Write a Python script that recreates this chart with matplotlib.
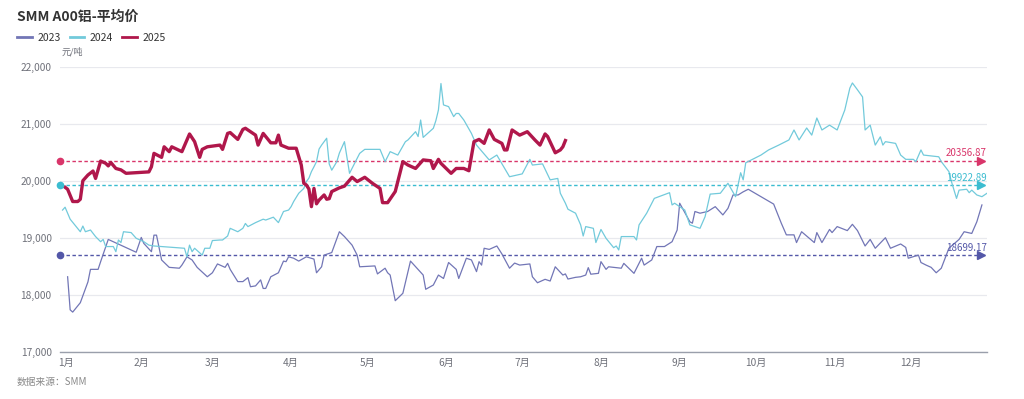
import matplotlib
matplotlib.use("Agg")
import matplotlib.pyplot as plt
from matplotlib.lines import Line2D

plt.rcParams['font.family'] = ['Noto Sans CJK SC', 'DejaVu Sans']

# day of year / price (元/吨)
days_2023 = [3, 4, 5, 8, 11, 12, 15, 16, 19, 30, 32, 33, 36, 37, 38, 40, 43, 47, 48, 50,
             52, 54, 58, 60, 62, 65, 66, 67, 70, 72, 74, 75, 77, 79, 80, 81, 83, 86, 88, 89,
             90, 92, 94, 97, 100, 101, 103, 104, 107, 110, 112, 115, 117, 118, 124, 125, 128,
             129, 130, 132, 135, 138, 143, 144, 147, 149, 151, 153, 156, 157, 160, 162, 164,
             165, 166, 167, 169, 172, 174, 177, 179, 181, 185, 186, 188, 191, 193, 195, 198,
             199, 200, 203, 205, 207, 208, 209, 212, 213, 215, 216, 221, 222, 226, 229, 230,
             233, 235, 238, 241, 243, 244, 248, 249, 250, 252, 255, 258, 261, 263, 265, 267,
             269, 271, 281, 284, 286, 289, 290, 292, 297, 298, 300, 303, 304, 306, 310, 312,
             314, 317, 319, 321, 325, 327, 331, 333, 334, 338, 339, 341, 343, 345, 347, 350,
             354, 356, 359, 361, 363]
price_2023 = [18320, 17740, 17700, 17865, 18230, 18450, 18450, 18585, 18975, 18750, 19010,
              18905, 18760, 19050, 19050, 18615, 18485, 18470, 18525, 18670, 18615, 18485,
              18320, 18390, 18545, 18485, 18555, 18450, 18235, 18235, 18305, 18145, 18160,
              18265, 18115, 18115, 18320, 18390, 18595, 18585, 18670, 18645, 18595, 18670,
              18630, 18390, 18495, 18700, 18745, 19110, 19025, 18875, 18700, 18495, 18510,
              18370, 18470, 18390, 18350, 17900, 18030, 18595, 18350, 18100, 18175, 18350,
              18290, 18570, 18450, 18290, 18645, 18615, 18410, 18585, 18525, 18820, 18800,
              18860, 18720, 18470, 18560, 18525, 18545, 18320, 18215, 18275, 18245, 18495,
              18350, 18370, 18280, 18310, 18320, 18350, 18480, 18365, 18380, 18585, 18450,
              18495, 18470, 18555, 18380, 18645, 18525, 18615, 18850, 18850, 18935, 19140,
              19610, 19285, 19260, 19465, 19435, 19465, 19550, 19405, 19520, 19755, 19755,
              19810, 19855, 19595, 19260, 19055, 19055, 18920, 19110, 18920, 19095, 18920,
              19150, 19095, 19200, 19130, 19240, 19130, 18860, 18975, 18820, 19005, 18820,
              18895, 18835, 18645, 18700, 18570, 18525, 18485, 18390, 18470, 18820, 18975,
              19110, 19080, 19285, 19580]

days_2024 = [1, 2, 4, 8, 9, 10, 12, 14, 16, 17, 18, 21, 22, 23, 24, 25, 28, 30, 33, 35, 37,
             49, 50, 51, 52, 53, 56, 57, 59, 60, 63, 64, 66, 67, 70, 72, 73, 74, 77, 80, 81,
             84, 86, 88, 90, 91, 92, 94, 96, 97, 98, 99, 100, 101, 102, 103, 105, 106, 107,
             109, 110, 112, 114, 118, 120, 126, 128, 130, 133, 136, 137, 140, 141, 142, 143,
             147, 148, 149, 150, 151, 153, 155, 156, 157, 159, 162, 164, 169, 172, 177, 182,
             185, 186, 190, 193, 196, 197, 199, 200, 203, 205, 206, 207, 210, 211, 213, 215,
             218, 219, 220, 221, 226, 227, 228, 231, 234, 240, 241, 242, 246, 248, 252, 254,
             256, 260, 263, 266, 268, 269, 270, 276, 279, 283, 287, 289, 291, 294, 296, 298,
             300, 303, 306, 309, 311, 312, 314, 316, 317, 319, 321, 323, 324, 325, 329, 331,
             333, 336, 337, 339, 340, 346, 347, 350, 351, 352, 353, 354, 357, 358, 359, 361,
             363, 365]
price_2024 = [19490, 19540, 19330, 19110, 19210, 19110, 19140, 19025, 18935, 18975, 18850,
              18850, 18760, 18965, 18920, 19110, 19095, 18995, 18935, 18875, 18860, 18820,
              18670, 18875, 18760, 18820, 18700, 18820, 18820, 18955, 18965, 18965, 19035,
              19170, 19110, 19170, 19255, 19200, 19270, 19330, 19315, 19365, 19270, 19465,
              19490, 19550, 19640, 19785, 19870, 19990, 20050, 20165, 20250, 20340, 20560,
              20630, 20750, 20300, 20190, 20340, 20490, 20690, 20135, 20485, 20555, 20555,
              20340, 20515, 20455, 20690, 20720, 20865, 20780, 21070, 20765, 20925, 21060,
              21245, 21710, 21335, 21305, 21130, 21185, 21185, 21070, 20835, 20630, 20370,
              20455, 20075, 20125, 20380, 20280, 20300, 20020, 20045, 19785, 19610, 19505,
              19435, 19230, 19035, 19200, 19170, 18920, 19150, 18995, 18830, 18860, 18790,
              19025, 19025, 18965, 19230, 19435, 19695, 19795, 19580, 19610, 19490, 19230,
              19170, 19375, 19770, 19785, 19960, 19725, 20145, 20020, 20320, 20455, 20545,
              20630, 20720, 20895, 20720, 20930, 20805, 21105, 20895, 20980, 20895, 21245,
              21630, 21720, 21600, 21475, 20895, 20980, 20630, 20775, 20630, 20690, 20660,
              20455, 20380, 20380, 20340, 20545, 20455, 20425, 20340, 20165, 19990, 19840,
              19695, 19840, 19855, 19795, 19840, 19755, 19725, 19785]

days_2025 = [2, 3, 5, 7, 8, 9, 11, 13, 14, 16, 18, 19, 20, 22, 24, 26, 35, 36, 37, 40, 41,
             43, 44, 48, 51, 53, 55, 56, 58, 63, 64, 66, 67, 70, 72, 73, 76, 77, 78, 80, 83,
             85, 86, 87, 90, 93, 95, 96, 97, 98, 99, 100, 101, 102, 104, 105, 106, 107, 110,
             112, 115, 117, 120, 123, 126, 127, 129, 132, 135, 137, 140, 143, 146, 147, 149,
             150, 154, 156, 159, 161, 163, 165, 167, 169, 171, 174, 175, 176, 178, 181, 184,
             187, 189, 191, 192, 195, 197, 198, 199]
price_2025 = [19890, 19855, 19640, 19640, 19680, 20005, 20105, 20175, 20045, 20350, 20310,
              20265, 20325, 20220, 20195, 20135, 20160, 20250, 20485, 20415, 20600, 20515,
              20600, 20515, 20825, 20690, 20415, 20555, 20600, 20630, 20555, 20835, 20850,
              20730, 20905, 20925, 20835, 20805, 20630, 20835, 20670, 20670, 20805, 20630,
              20575, 20575, 20280, 19960, 19930, 19860, 19550, 19870, 19600, 19665, 19755,
              19680, 19690, 19815, 19880, 19910, 20065, 19990, 20065, 19960, 19870, 19620,
              19620, 19815, 20340, 20280, 20220, 20370, 20355, 20220, 20380, 20310, 20135,
              20220, 20220, 20180, 20690, 20730, 20660, 20895, 20730, 20660, 20545, 20545,
              20895, 20805, 20865, 20720, 20630, 20825, 20780, 20495, 20545, 20600, 20710]

years = ['2023', '2024', '2025']
means = [18699.17, 19922.89, 20356.87]
month_labels = ['1月', '2月', '3月', '4月', '5月', '6月', '7月', '8月', '9月', '10月', '11月', '12月']
month_days = [2.5, 32, 60, 91, 121, 152, 182, 213, 244, 274, 305, 335]

line_colors = ['#7276b6', '#72cadb', '#b0174b']
mean_colors = ['#5357a8', '#3bbcd0', '#d9356a']
widths = [0.9, 0.9, 2.4]

fig = plt.figure(figsize=(10.24, 3.99), dpi=100)
ax = fig.add_axes([60 / 1024, 47 / 399, 927 / 1024, 285 / 399])

series = [(days_2023, price_2023), (days_2024, price_2024), (days_2025, price_2025)]
for (d, p), c, w in zip(series, line_colors, widths):
    ax.plot(d, p, color=c, lw=w, solid_joinstyle='round', zorder=3)

# average lines with a dot at the start and an arrow at the end
for m, c in zip(means, mean_colors):
    ax.plot([0, 362], [m, m], color=c, lw=1.0, ls=(0, (2.5, 1.8)), zorder=2)
    ax.plot([0], [m], 'o', color=c, ms=4.5, clip_on=False, zorder=4)
    ax.plot([362.5], [m], '>', color=c, ms=6, clip_on=False, zorder=4)
    ax.text(365, m + 45, '%.2f' % m, color=c, fontsize=7, ha='right', va='bottom', zorder=5)

ax.set_xlim(0, 365)
ax.set_ylim(17000, 22000)
ax.set_yticks(range(17000, 22001, 1000))
ax.set_yticklabels(['{:,}'.format(v) for v in range(17000, 22001, 1000)])
ax.set_xticks(month_days)
ax.set_xticklabels(month_labels)
ax.tick_params(axis='both', length=0, labelsize=7.3, colors='#6e7079')
ax.tick_params(axis='y', pad=6)
ax.tick_params(axis='x', pad=4)
ax.grid(axis='y', color='#e8e9ee', lw=0.9)
ax.set_axisbelow(True)
for s in ['left', 'right', 'top']:
    ax.spines[s].set_visible(False)
ax.spines['bottom'].set_color('#9a9fab')
ax.spines['bottom'].set_linewidth(1.0)

fig.text(17 / 1024, 1 - 17 / 399, 'SMM A00铝-平均价', fontsize=10, fontweight='bold',
         color='#333333', va='center', ha='left')
handles = [Line2D([], [], color=c, lw=2) for c in line_colors]
fig.legend(handles, years, loc='center left', bbox_to_anchor=(8 / 1024, 1 - 38 / 399),
           ncol=3, frameon=False, fontsize=7.5, handlelength=1.4, handletextpad=0.5,
           columnspacing=0.9, labelcolor='#333333')
fig.text(62 / 1024, 1 - 52 / 399, '元/吨', fontsize=6.5, color='#6e7079', va='center')
fig.text(17 / 1024, 1 - 382 / 399, '数据来源：SMM', fontsize=7, color='#8a8a8a',
         style='italic', va='center')

fig.savefig('out.png', dpi=100)
